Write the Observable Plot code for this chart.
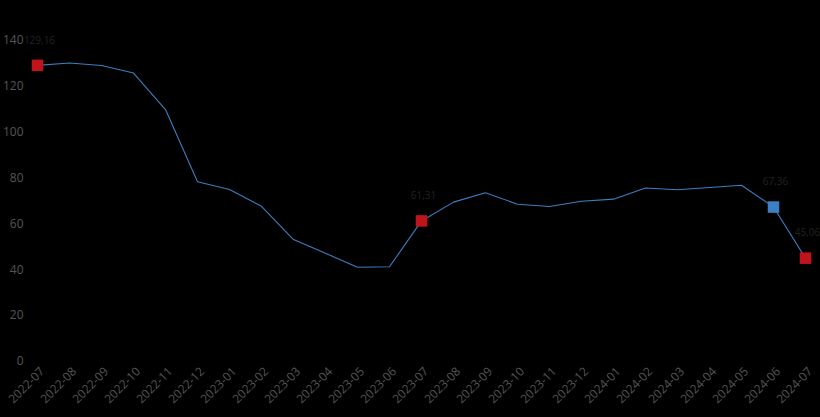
<!DOCTYPE html>
<html>
<head>
<meta charset="utf-8">
<script src="https://cdn.jsdelivr.net/npm/d3@7"></script>
<script src="https://cdn.jsdelivr.net/npm/@observablehq/plot@0.6"></script>
<style>
  html, body { margin: 0; padding: 0; background: #000; }
  #chart svg { display: block; }
</style>
</head>
<body>
<div id="chart"></div>
<script>
const months = ["2022-07","2022-08","2022-09","2022-10","2022-11","2022-12","2023-01","2023-02","2023-03","2023-04","2023-05","2023-06","2023-07","2023-08","2023-09","2023-10","2023-11","2023-12","2024-01","2024-02","2024-03","2024-04","2024-05","2024-06","2024-07"];
const values = [129.16,130.2,129.1,125.8,109.9,78.4,75.0,67.7,53.2,47.2,41.1,41.3,61.31,69.5,73.6,68.6,67.6,69.9,70.8,75.7,74.9,75.9,76.9,67.36,45.06];
const highlightMonths = ["2022-07","2023-07","2024-06","2024-07"];
const highlightColors = ["#c0141c","#c0141c","#3a80c2","#c0141c"];
const yTicks = [0,20,40,60,80,100,120,140];

const data = months.map((m, i) => ({month: m, value: values[i]}));
const highlights = highlightMonths.map((m, i) => ({
  month: m,
  value: values[months.indexOf(m)],
  color: highlightColors[i],
  label: values[months.indexOf(m)].toFixed(2).replace(".", ",")
}));

const chart = Plot.plot({
  width: 820,
  height: 417,
  marginLeft: 35,
  marginRight: 13,
  marginTop: 40,
  marginBottom: 56,
  style: {background: "#000", fontFamily: "Open Sans, sans-serif", fontSize: "12px", color: "#555"},
  x: {type: "point", domain: months, padding: 0, label: null},
  y: {domain: [0, 140], label: null},
  marks: [
    Plot.axisY({ticks: yTicks, tickSize: 0, tickPadding: 12, fill: "#555", fontSize: 12, label: null}),
    Plot.axisX({tickSize: 0, tickPadding: 8, dx: 5, tickRotate: -45, fill: "#555", fontSize: 12, label: null}),
    Plot.line(data, {x: "month", y: "value", stroke: "#3a7fc0", strokeWidth: 1.1}),
    Plot.dot(highlights, {x: "month", y: "value", symbol: "square", r: 6.5, fill: d => d.color, stroke: "none"}),
    Plot.text(highlights, {x: "month", y: "value", text: "label", dy: -25, dx: 2, fill: "#222", fontSize: 10})
  ]
});
document.getElementById("chart").appendChild(chart);
</script>
</body>
</html>
